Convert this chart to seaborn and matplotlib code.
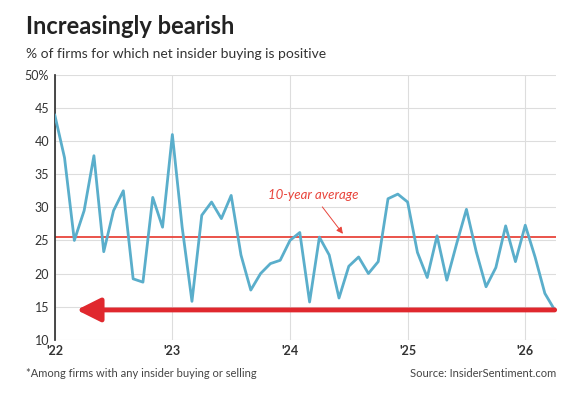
import numpy as np
import pandas as pd
import matplotlib
matplotlib.use("Agg")
import matplotlib.pyplot as plt
import seaborn as sns

# monthly share of firms with positive net insider buying, Jan 2022 - Apr 2026
pct = [44, 37.5, 25, 29.5, 37.8, 23.3, 29.5, 32.5, 19.2, 18.7, 31.5, 27,
       41, 27, 15.8, 28.8, 30.8, 28.3, 31.8, 22.8, 17.5, 20, 21.5, 22,
       25, 26.2, 15.7, 25.5, 22.8, 16.3, 21.1, 22.5, 20, 21.8, 31.3, 32,
       30.8, 23.2, 19.4, 25.7, 19, 24.5, 29.7, 23.3, 18, 20.9, 27.2, 21.8,
       27.3, 22.5, 17, 14.5]
avg10 = 25.5
year_ticks = [2022, 2023, 2024, 2025, 2026]
year_labels = ["'22", "'23", "'24", "'25", "'26"]

df = pd.DataFrame({"t": 2022 + np.arange(len(pct)) / 12, "pct": pct})

sns.set_theme(style="white")
plt.rcParams['font.family'] = ['Lato', 'DejaVu Sans']

fig = plt.figure(figsize=(5.76, 4.03), dpi=100)
ax = fig.add_axes([0.095, 0.157, 0.87, 0.657])

ax.grid(True, color="#dddddd", lw=0.8)
ax.set_axisbelow(True)
ax.axhline(avg10, color="#e8453c", lw=1.3, zorder=2)
sns.lineplot(data=df, x="t", y="pct", ax=ax, color="#5aaecb", lw=2, zorder=3)

# big arrow pointing back to early 2022
ax.annotate("", xy=(df["t"].iloc[2] + 0.02, pct[-1]), xytext=(df["t"].iloc[-1], pct[-1]),
            arrowprops=dict(arrowstyle="-|>,head_length=1.2,head_width=0.6",
                            color="#e0282e", lw=3.5, shrinkA=0, shrinkB=0), zorder=4)
ax.annotate("10-year average", xy=(2024.45, 26.0), xytext=(2024.2, 31.2),
            color="#e8453c", fontsize=9.5, style="italic", ha="center",
            arrowprops=dict(arrowstyle="-|>", color="#e8453c", lw=0.7, shrinkA=2, shrinkB=0))

ax.set_xlim(2022, 2026 + 3 / 12 + 0.01)
ax.set_ylim(10, 50)
ax.set_xticks(year_ticks)
ax.set_xticklabels(year_labels, fontsize=9, fontweight="bold", color="#333333")
yt = list(range(10, 51, 5))
ax.set_yticks(yt)
ax.set_yticklabels([str(v) if v < 50 else "50%" for v in yt], fontsize=9, color="#333333")
ax.tick_params(axis="both", length=0, pad=4)
ax.set_xlabel("")
ax.set_ylabel("")
for s in ["top", "right"]:
    ax.spines[s].set_visible(False)
ax.spines["left"].set_color("#333333")
ax.spines["bottom"].set_visible(False)

fig.text(0.045, 0.915, "Increasingly bearish", fontsize=17, fontweight="bold", color="#222222")
fig.text(0.045, 0.855, "% of firms for which net insider buying is positive", fontsize=10, color="#333333")
fig.text(0.045, 0.065, "*Among firms with any insider buying or selling", fontsize=8, color="#444444")
fig.text(0.965, 0.065, "Source: InsiderSentiment.com", fontsize=8, color="#444444", ha="right")

fig.savefig("out.png", dpi=100)
